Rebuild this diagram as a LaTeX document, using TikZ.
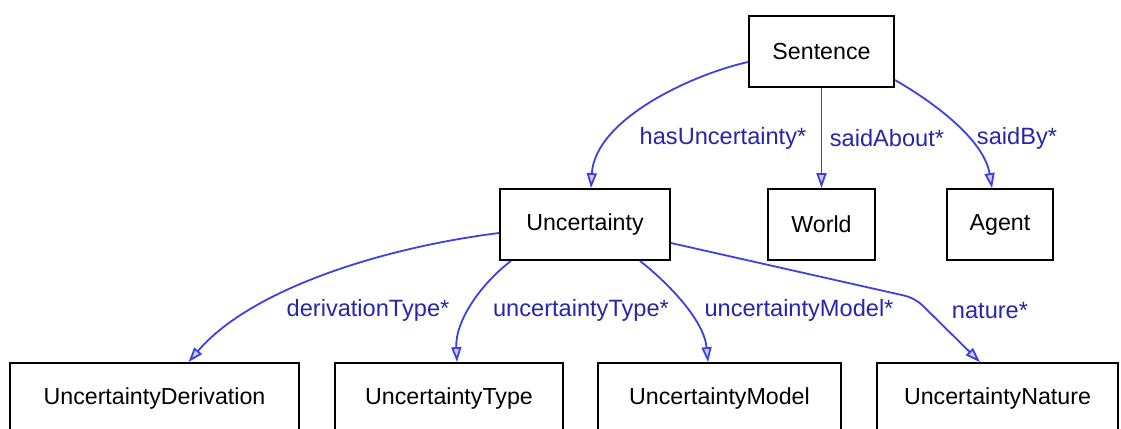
\documentclass[tikz,border=0pt]{standalone}
\usepackage{fontspec}
\setmainfont{Liberation Sans}
\usetikzlibrary{arrows.meta}
\definecolor{edgeblue}{RGB}{64,64,224}
\definecolor{labelblue}{RGB}{38,38,170}
\begin{document}
\begin{tikzpicture}[x=0.5pt,y=-0.5pt,
  classbox/.style={draw=black,line width=0.9pt,fill=white,inner sep=0pt,
    minimum height=35.5pt,font=\fontsize{11.6}{14}\selectfont},
  rel/.style={draw=edgeblue,line width=0.9pt,
    -{Triangle[open,length=7.5pt,width=5pt,fill=edgeblue!25]}},
  rellabel/.style={text=labelblue,inner sep=0pt,font=\fontsize{11.8}{14}\selectfont}]
\useasboundingbox (0,0) rectangle (1121,429);
\clip (0,0) rectangle (1121,429);
\fill[white] (0,0) rectangle (1121,429);

% classes
\node[classbox,minimum width=72.5pt] (sentence) at (821.5,51.5) {Sentence};
\node[classbox,minimum width=85pt] (uncert) at (585,224.5) {Uncertainty};
\node[classbox,minimum width=53.5pt] (world) at (821.5,224.5) {World};
\node[classbox,minimum width=53pt] (agent) at (1000,224.5) {Agent};
\node[classbox,minimum width=144.5pt] (deriv) at (154.5,398.5) {UncertaintyDerivation};
\node[classbox,minimum width=114pt] (utype) at (449,398.5) {UncertaintyType};
\node[classbox,minimum width=121.5pt] (umodel) at (719.5,398.5) {UncertaintyModel};
\node[classbox,minimum width=120.5pt] (unature) at (997.5,398.5) {UncertaintyNature};

% relations of Sentence
\draw[rel] ([yshift=-5.25pt]sentence.west) .. controls (690,75) and (595,120) .. ([xshift=3pt]uncert.north);
\draw[rel] (sentence.south) -- (world.north);
\draw[rel] ([yshift=-14.25pt]sentence.east) .. controls (935,103) and (984,140) .. ([xshift=-4pt]agent.north);

% relations of Uncertainty
\draw[rel] ([yshift=-4.25pt]uncert.west) .. controls (380,248) and (250,290) .. ([xshift=17pt]deriv.north);
\draw[rel] ([xshift=-37pt]uncert.south) .. controls (482,283) and (455,320) .. ([xshift=4pt]utype.north);
\draw[rel] ([xshift=27.5pt]uncert.south) .. controls (668,283) and (704,320) .. ([xshift=-5.75pt]umodel.north);
\coordinate (bend) at (915,298);
\draw[rel,rounded corners=5pt] ([yshift=-9.25pt]uncert.east) -- (bend) -- ([xshift=-8.75pt]unature.north);

% relation labels
\node[rellabel] (l1) at (723,138) {hasUncertainty*};
\node[rellabel] (l2) at (887,138) {saidAbout*};
\node[rellabel] (l3) at (1017,138) {saidBy*};
\node[rellabel] (l4) at (368,310) {derivationType*};
\node[rellabel] (l5) at (581,310) {uncertaintyType*};
\node[rellabel] (l6) at (799,310) {uncertaintyModel*};
\node[rellabel] (l7) at (990,310) {nature*};
\end{tikzpicture}
\end{document}
